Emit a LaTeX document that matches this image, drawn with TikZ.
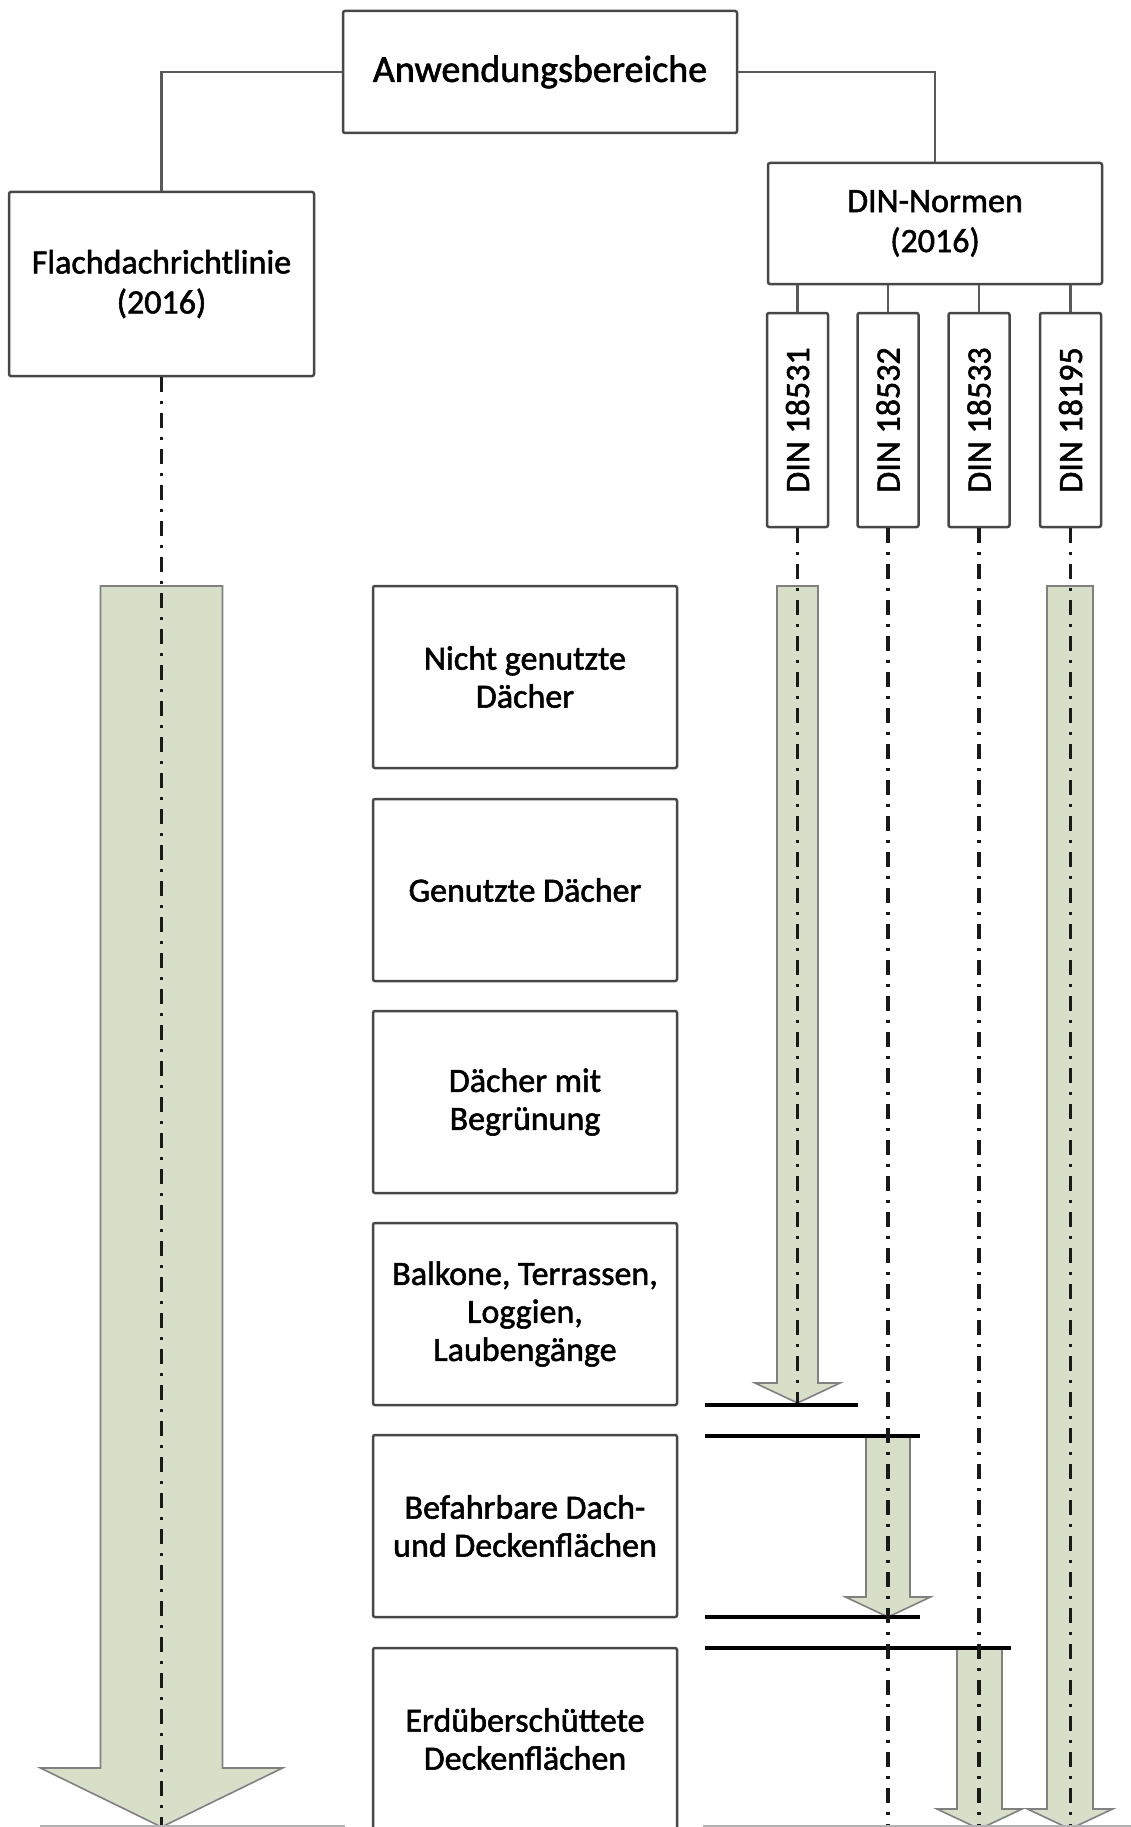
\documentclass[tikz,border=0pt]{standalone}
\usepackage{fontspec}
\setmainfont{Carlito}[FakeBold=1.6]
\definecolor{bandgreen}{RGB}{216,223,200}
\begin{document}
\begin{tikzpicture}
[x=1pt,y=-1pt,%
  every node/.style={draw=black!72,line width=2.5pt,rounded corners=2pt,
    align=center,text=black,fill=white,font=\fontsize{34}{38}\selectfont},%
  area/.style={minimum width=304pt,minimum height=182pt},%
  dinbox/.style={rotate=90,minimum width=214pt,minimum height=61pt,inner sep=0pt},%
  link/.style={draw=black!65,line width=2.2pt},%
  axis/.style={black!90,line width=3.6pt,dash pattern=on 15pt off 9pt on 3pt off 9pt},%
  band/.style={fill=bandgreen,draw=black!50,line width=1.6pt,line join=miter},%
  limit/.style={black,line width=3.5pt}]
\useasboundingbox (0,0) rectangle (1131,1827);
\node[minimum width=394pt,minimum height=122pt,font=\fontsize{38}{42}\selectfont]
  (anw) at (540,72) {Anwendungsbereiche};
\node[minimum width=305pt,minimum height=184pt,font=\fontsize{34}{40}\selectfont]
  (flach) at (161.5,284) {Flachdachrichtlinie\\(2016)};
\node[minimum width=334pt,minimum height=121pt,font=\fontsize{34}{40}\selectfont]
  (din) at (935,223.5) {DIN-Normen\\(2016)};
\foreach \n/\x/\t in {1/797.5/18531,2/888/18532,3/979/18533,4/1070.5/18195}
  \node[dinbox] (d\n) at (\x,420) {DIN \t};
\node[area] (m1) at (525,677) {Nicht genutzte\\Dächer};
\node[area] (m2) at (525,890) {Genutzte Dächer};
\node[area] (m3) at (525,1102) {Dächer mit\\Begrünung};
\node[area] (m4) at (525,1314) {Balkone, Terrassen,\\Loggien,\\Laubengänge};
\node[area] (m5) at (525,1526) {Befahrbare Dach-\\und Deckenflächen};
\node[area] (m6) at (525,1739) {Erdüberschüttete\\Deckenflächen};
\draw[link] (anw.west) -| (flach.north);
\draw[link] (anw.east) -| (din.north);
\foreach \n in {1,...,4}
  \draw[link] (din.south -| d\n.east) -- (d\n.east);
\foreach \x/\ya/\yb/\s/\w/\h in {161.5/586/1827/61/121/59,797.5/586/1403/20.5/42.5/20,
    888/1436/1617/22/42.5/20,979.5/1648/1829/22.5/42.5/20,1070/586/1829/23/42.5/20}
  \filldraw[band] (\x-\s,\ya) -- (\x+\s,\ya) -- (\x+\s,\yb-\h) -- (\x+\w,\yb-\h)
    -- (\x,\yb) -- (\x-\w,\yb-\h) -- (\x-\s,\yb-\h) -- cycle;
\draw[limit] (705,1405) -- (858,1405);
\draw[limit] (705,1436) -- (920,1436);
\draw[limit] (705,1617) -- (920,1617);
\draw[limit] (705,1648) -- (1011,1648);
\coordinate (f0) at (161.5,1827);
\coordinate (e1) at (797.5,1403);
\coordinate (e2) at (888,1827);
\coordinate (e3) at (979,1827);
\coordinate (e4) at (1070.5,1827);
\draw[axis] (flach.south) -- (f0);
\foreach \n in {1,...,4}
  \draw[axis] (d\n.west) -- (e\n);
\draw[black!30,line width=1.5pt] (40,1826) -- (345,1826) (703,1826) -- (1131,1826);
\end{tikzpicture}
\end{document}
